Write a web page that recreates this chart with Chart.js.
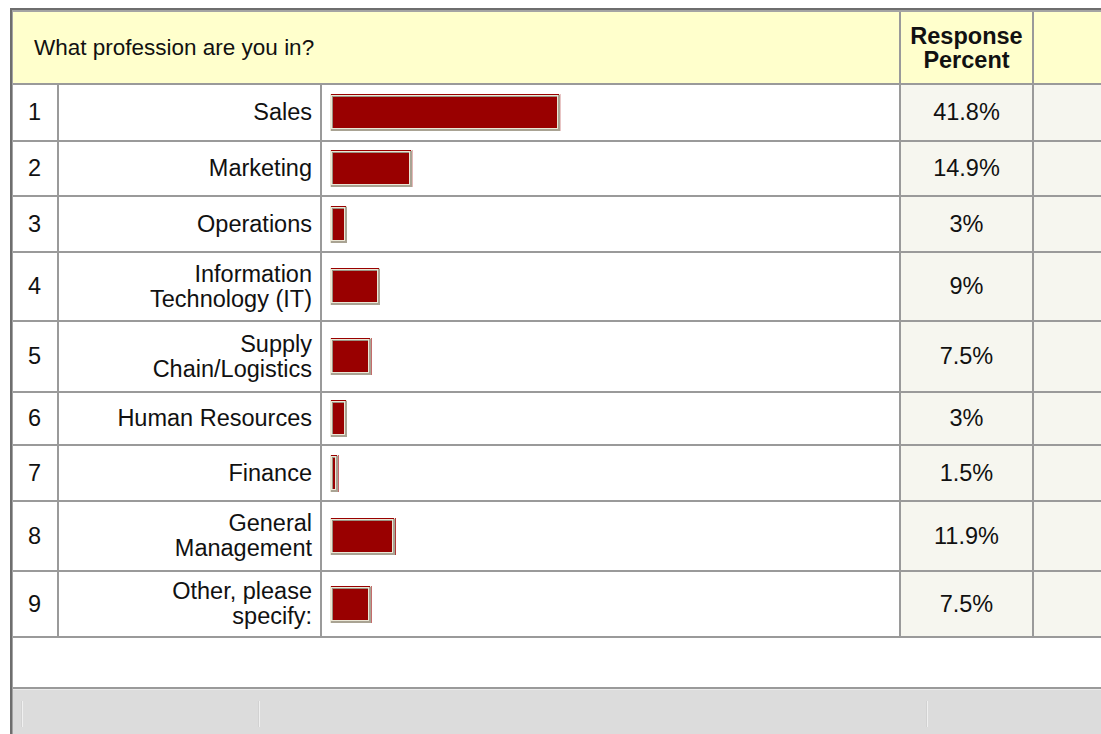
<!DOCTYPE html>
<html>
<head>
<meta charset="utf-8">
<script src="https://cdn.jsdelivr.net/npm/chart.js@4/dist/chart.umd.min.js"></script>
<style>
  html, body { margin: 0; padding: 0; background: #fff; }
  body { width: 1101px; height: 734px; overflow: hidden; position: relative;
         font-family: Arial, "Liberation Sans", sans-serif; color: #111; }
  .abs { position: absolute; }
  .cell { position: absolute; display: flex; align-items: center; box-sizing: border-box; }
  .num { font-size: 23.5px; padding-left: 15px; }
  .lbl { font-size: 23.5px; justify-content: flex-end; text-align: right; padding-right: 8px; line-height: 25px; }
  .lbl span { max-width: 212px; }
  .pct { font-size: 23.5px; justify-content: center; }
  .q { font-size: 22.5px; padding-left: 21px; }
  .head { font-size: 23.5px; font-weight: bold; justify-content: center; text-align: center; line-height: 24px; }
</style>
</head>
<body>
<script>
/* ========= DATA ========= */
const labels = [
  'Sales', 'Marketing', 'Operations', 'Information Technology (IT)',
  'Supply Chain/Logistics', 'Human Resources', 'Finance',
  'General Management', 'Other, please specify:'
];
const percents = [41.8, 14.9, 3, 9, 7.5, 3, 1.5, 11.9, 7.5];
const question = 'What profession are you in?';
const headerText = 'Response<br>Percent';

/* ========= LAYOUT ========= */
const lineY = [83, 140, 195, 251, 320, 391, 444, 500, 570, 636]; // top of each row rule
const colX = [57, 320, 899, 1032];                              // left of each column rule
const W = 1101, H = 734;
const GRID = '#9a9a9a';

const body = document.body;
function box(x, y, w, h, bg) {
  const d = document.createElement('div');
  d.className = 'abs';
  Object.assign(d.style, { left: x + 'px', top: y + 'px', width: w + 'px', height: h + 'px', background: bg });
  body.appendChild(d);
  return d;
}
function cell(cls, x, y, w, h, html) {
  const d = document.createElement('div');
  d.className = 'cell ' + cls;
  Object.assign(d.style, { left: x + 'px', top: y + 'px', width: w + 'px', height: h + 'px' });
  d.innerHTML = html;
  body.appendChild(d);
  return d;
}

// header band + outer frame
box(13, 11, W - 13, lineY[0] - 11, '#ffffcc');
box(10, 8, W - 10, 2, '#6e6e6e');
box(12, 10, W - 12, 2, '#a4a4a4');
box(10, 8, 2, H - 8, '#6e6e6e');
box(12, 10, 1, H - 10, '#a4a4a4');

// percent columns background
const bodyTop = lineY[0] + 2, bodyBot = lineY[lineY.length - 1];
box(colX[2] + 2, bodyTop, colX[3] - colX[2] - 2, bodyBot - bodyTop, '#f6f6ef');
box(colX[3] + 2, bodyTop, W - colX[3] - 2, bodyBot - bodyTop, '#f6f6ef');

// rules
lineY.forEach(y => box(13, y, W - 13, 2, GRID));
box(colX[0], bodyTop, 2, bodyBot - bodyTop, GRID);
box(colX[1], bodyTop, 2, bodyBot - bodyTop, GRID);
box(colX[2], 12, 2, bodyBot - 12, GRID);
box(colX[3], 12, 2, bodyBot - 12, GRID);

// footer bar
box(13, 687, W - 13, 2, '#9a9a9a');
box(13, 689, W - 13, 1, '#ececec');
box(13, 690, W - 13, H - 690, '#dcdcdc');
[21, 258, 926].forEach(x => { box(x, 701, 1, 26, '#d2d2d2'); box(x + 1, 701, 1, 26, '#f0f0f0'); });

// header text
cell('q', 13, 12, colX[2] - 13, lineY[0] - 12, question);
cell('head', colX[2] + 2, 12, colX[3] - colX[2] - 2, lineY[0] - 12, headerText);

/* ========= BAR BEVEL ========= */
const bevel = {
  id: 'bevel',
  afterDatasetsDraw(chart) {
    const ctx = chart.ctx;
    chart.getDatasetMeta(0).data.forEach(el => {
      const p = el.getProps(['x', 'y', 'base', 'height'], true);
      const l = Math.round(p.base), r = Math.round(p.x);
      const t = Math.round(p.y - p.height / 2), b = Math.round(p.y + p.height / 2);
      const w = r - l, h = b - t;
      ctx.save();
      ctx.fillStyle = '#ebe7d6'; ctx.fillRect(l, t, w, h);
      ctx.fillStyle = '#a9a393'; ctx.fillRect(l + 1, b - 2, w - 1, 2); ctx.fillRect(r - 2, t + 1, 2, h - 1);
      ctx.fillStyle = '#9c9484'; ctx.fillRect(l + 2, t + 2, w - 5, h - 5);
      ctx.fillStyle = '#990000'; ctx.fillRect(l + 3, t + 3, w - 6, h - 6);
      ctx.fillRect(l + 1, t, w - 2, 1);
      ctx.restore();
    });
  }
};

/* ========= ROWS ========= */
labels.forEach((lab, i) => {
  const top = lineY[i] + 2, h = lineY[i + 1] - top;
  cell('num', 13, top, colX[0] - 13, h, String(i + 1));
  cell('lbl', colX[0] + 2, top, colX[1] - colX[0] - 2, h, '<span>' + lab + '</span>');
  cell('pct', colX[2] + 2, top, colX[3] - colX[2] - 2, h, percents[i] + '%');

  const cv = document.createElement('canvas');
  cv.width = 550; cv.height = 37;
  cv.className = 'abs';
  cv.style.left = '330px';
  cv.style.top = Math.round(top + (h - 37) / 2) + 'px';
  body.appendChild(cv);

  new Chart(cv, {
    type: 'bar',
    data: {
      labels: [lab],
      datasets: [{ data: [percents[i]], backgroundColor: '#990000', borderWidth: 0,
                   barPercentage: 1, categoryPercentage: 1 }]
    },
    options: {
      indexAxis: 'y',
      responsive: false,
      animation: false,
      layout: { padding: 0 },
      plugins: { legend: { display: false }, tooltip: { enabled: false } },
      scales: {
        x: { display: false, min: 0, max: 100 },
        y: { display: false }
      }
    },
    plugins: [bevel]
  });
});
</script>
</body>
</html>
